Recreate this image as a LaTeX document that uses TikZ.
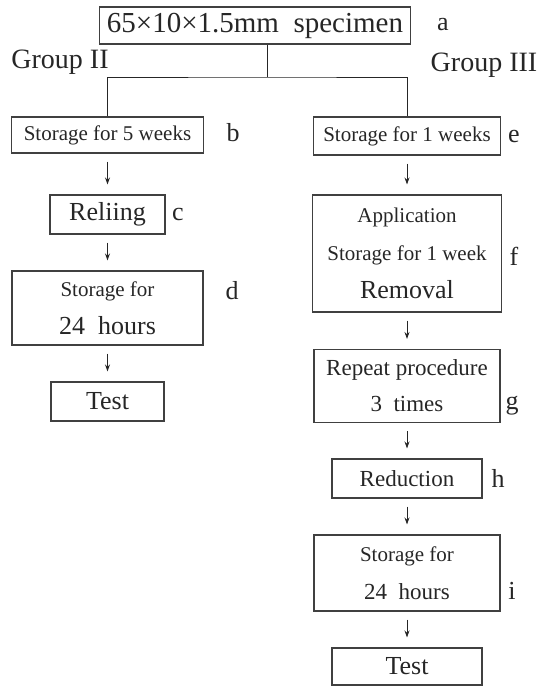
\documentclass[tikz,border=0pt]{standalone}
\usepackage{fontspec}
\setmainfont{Liberation Serif}
\usetikzlibrary{arrows.meta}
\newcommand{\boxfont}{\fontsize{21}{38}\selectfont}
\newcommand{\bigfont}{\fontsize{26}{38}\selectfont}
\tikzset{
  stepbox/.style={draw=black!75,line width=1.1pt,inner sep=0pt,align=center,font=\boxfont},
  flowarrow/.style={-{Stealth[length=7pt,width=5pt]},line width=0.9pt,shorten <=8pt,shorten >=10pt},
  tag/.style={font=\bigfont}
}
\begin{document}
\begin{tikzpicture}[x=1pt,y=-1pt,line width=0.9pt,black!85]
    \useasboundingbox (0,0) rectangle (544,686);

    % Specimen and the two groups
    \node[stepbox,minimum width=311,minimum height=37,font=\fontsize{29}{38}\selectfont] (A) at (255,25.5) {65×10×1.5mm\enspace specimen};
    \node[tag,font=\fontsize{28}{38}\selectfont] (G2) at (60,62) {Group II};
    \node[tag,font=\fontsize{28}{38}\selectfont] (G3) at (484,65) {Group III};
    \coordinate (split) at (267,77);

    % Group II
    \begin{scope}[every node/.style={stepbox}]
      \node[minimum width=192,minimum height=36] (b) at (107.5,135) {Storage for 5 weeks};
      \node[minimum width=115,minimum height=39,font=\bigfont] (c) at (107.5,214.5) {Reliing};
      \node[minimum width=191,minimum height=74] (d) at (107.5,308) {Storage for\\{\bigfont 24\enspace hours}};
      \node[minimum width=113,minimum height=39,font=\bigfont] (TL) at (107.5,401.5) {Test};
    \end{scope}

    % Group III
    \begin{scope}[every node/.style={stepbox}]
      \node[minimum width=187,minimum height=38] (e) at (407,136) {Storage for 1 weeks};
      \node[minimum width=189,minimum height=117] (f) at (407,253.5) {Application\\Storage for 1 week\\{\bigfont Removal}};
      \node[minimum width=186,minimum height=73,font=\fontsize{23}{36}\selectfont] (g) at (407,386) {Repeat procedure\\3\enspace times};
      \node[minimum width=150,minimum height=39,font=\fontsize{23}{38}\selectfont] (h) at (407,478.5) {Reduction};
      \node[minimum width=186,minimum height=76] (i) at (407,573) {Storage for\\{\fontsize{23}{38}\selectfont 24\enspace hours}};
      \node[minimum width=150,minimum height=37,font=\bigfont] (TR) at (407,666.5) {Test};
    \end{scope}

    % Step letters
    \begin{scope}[every node/.style={tag}]
      \node (la) at (443,25) {a};
      \node (lb) at (233,133) {b};
      \node (lc) at (178,214) {c};
      \node (ld) at (232,291) {d};
      \node (le) at (514,136) {e};
      \node (lf) at (514,256) {f};
      \node (lg) at (512,406) {g};
      \node (lh) at (498,478) {h};
      \node (li) at (512,591) {i};
    \end{scope}

    % Split into the groups
    \draw (A.south -| split) -- (split);
    \draw (b.north) |- (split) -| (e.north);

    % Steps
    \draw[flowarrow] (b) -- (c);
    \draw[flowarrow] (c) -- (d);
    \draw[flowarrow] (d) -- (TL);
    \draw[flowarrow] (e) -- (f);
    \draw[flowarrow] (f) -- (g);
    \draw[flowarrow] (g) -- (h);
    \draw[flowarrow] (h) -- (i);
    \draw[flowarrow] (i) -- (TR);

\end{tikzpicture}
\end{document}
